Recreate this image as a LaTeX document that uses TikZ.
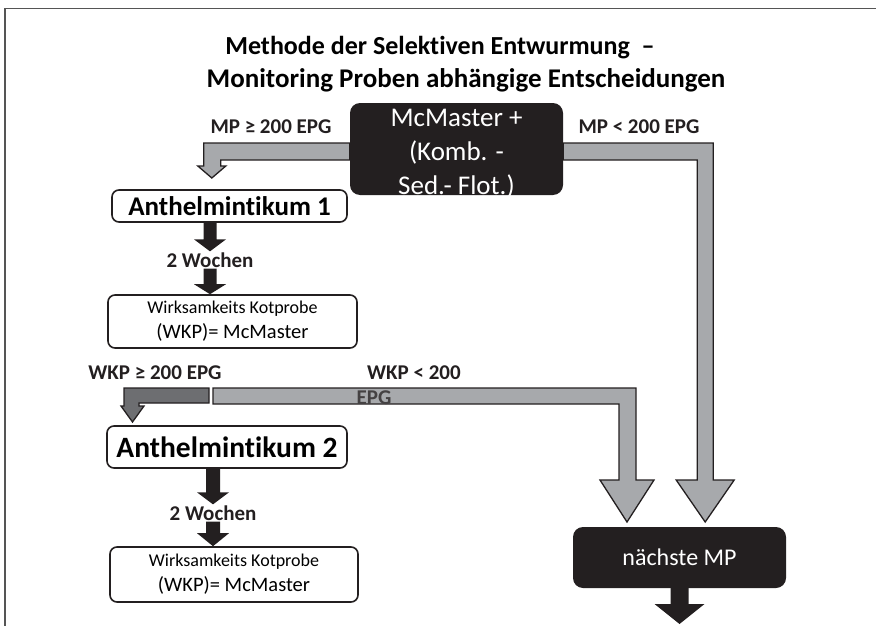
\documentclass[tikz,border=0pt]{standalone}
\usepackage{fontspec}
\setmainfont{Carlito}[Ligatures=NoCommon]
\usepackage{tikz}
\usetikzlibrary{calc}
\definecolor{boxblack}{HTML}{231F20}
\definecolor{lgray}{HTML}{A7A9AC}
\definecolor{dgray}{HTML}{6D6E71}
\definecolor{framegray}{HTML}{555555}
\tikzset{
  darkbox/.style={fill=boxblack, text=white, rounded corners=10pt, inner sep=0pt, align=center},
  whitebox/.style={draw=boxblack, line width=1.6pt, fill=white, rounded corners=7pt, inner sep=0pt, align=center},
  cond/.style={text=boxblack, font=\fontsize{21}{24}\selectfont\bfseries, inner sep=1pt},
  garrow/.style={draw=boxblack, line width=1.3pt, fill=lgray, line join=miter},
  darrow/.style={garrow, fill=dgray}
}
% black block arrow straight down: start, end, half shaft, half head, head length
\newcommand{\blkdown}[5]{%
  \fill[boxblack] let \p1=#1, \p2=#2 in
    (\x2-#3,\y1) -- (\x2+#3,\y1) -- (\x2+#3,\y2+#5) -- (\x2+#4,\y2+#5)
    -- (\x2,\y2) -- (\x2-#4,\y2+#5) -- (\x2-#3,\y2+#5) -- cycle;}

\begin{document}
\begin{tikzpicture}[x=1pt, y=-1pt]
  \useasboundingbox (0,0) rectangle (876,626);
  \draw[framegray, line width=1.5pt] (5,626) -- (5,8.5) -- (876,8.5);

  % title
  \node[font=\fontsize{26}{30}\selectfont\bfseries] (title1) at (440,48) {Methode der Selektiven Entwurmung \ –};
  \node[font=\fontsize{27}{30}\selectfont\bfseries] (title2) at (466,80) {Monitoring Proben abhängige Entscheidungen};

  % boxes
  \node[darkbox, minimum width=213pt, minimum height=92pt] (mcm) at (456.5,149) {};
  \node[text=white, align=center, inner sep=0pt, font=\fontsize{27}{34}\selectfont] (mcmtext) at ($(mcm.center)+(0,5)$)
    {McMaster +\\(Komb. -\\Sed.- Flot.)};
  \node[whitebox, minimum width=235pt, minimum height=32pt, font=\fontsize{27}{30}\selectfont\bfseries] (anth1) at (229.5,206) {Anthelmintikum 1};
  \node[cond] (woch1) at (210,260) {2 Wochen};
  \node[whitebox, minimum width=249pt, minimum height=53pt] (wkp1) at (232.5,321.5)
    {{\fontsize{18}{20}\selectfont Wirksamkeits Kotprobe}\\[6pt]{\fontsize{20.5}{22}\selectfont (WKP)= McMaster}};
  \node[whitebox, minimum width=240pt, minimum height=42pt, font=\fontsize{29.5}{32}\selectfont\bfseries] (anth2) at (227,447) {Anthelmintikum 2};
  \node[cond] (woch2) at (213,513) {2 Wochen};
  \node[whitebox, minimum width=248pt, minimum height=55pt] (wkp2) at (234,574.5)
    {{\fontsize{18}{20}\selectfont Wirksamkeits Kotprobe}\\[6pt]{\fontsize{20.5}{22}\selectfont (WKP)= McMaster}};
  \node[darkbox, minimum width=213pt, minimum height=61pt, font=\fontsize{24}{28}\selectfont] (next) at (679.5,557.5) {nächste MP};

  % conditions
  \node[cond] (mpge) at (271,127) {MP ≥ 200 EPG};
  \node[cond] (mplt) at (639,127) {MP < 200 EPG};
  \node[cond] (wkpge) at (155,373) {WKP ≥ 200 EPG};
  \node[cond] (wkplt) at (414,373) {WKP < 200};
  \coordinate (fork) at (211,396);
  \coordinate (out) at (679.5,624);

  % gray arrows
  \draw[garrow] ($(mcm.west)+(0,-6)$) -- ++(-146,0) -- ++(0,23) -- ++(-6,0) -- ++(14,12)
    -- ++(14,-12) -- ++(-5,0) -- ++(0,-6) -- ($(mcm.west)+(0,11)$) -- cycle;
  \draw[garrow] ($(mcm.east)+(0,-6)$) -- ++(150,0) -- ++(0,337) -- ++(21,0) -- ++(-29,42)
    -- ++(-29,-42) -- ++(21,0) -- ++(0,-320) -- ($(mcm.east)+(0,11)$) -- cycle;
  \draw[garrow] ($(fork)+(2,-8)$) -- ++(423,0) -- ++(0,92) -- ++(18,0) -- ++(-27,42)
    -- ++(-27,-42) -- ++(19,0) -- ++(0,-76) -- ($(fork)+(2,8)$) -- cycle;
  \draw[darrow] ($(fork)+(-2,-8)$) -- ++(-85,0) -- ++(0,18) -- ++(-3,0) -- ++(11.5,16)
    -- ++(11.5,-16) -- ++(-5,0) -- ++(0,-3) -- ($(fork)+(-2,7)$) -- cycle;
  \node[cond, text=boxblack!85] (epg) at (374,398) {EPG};

  % black arrows
  \blkdown{(anth1.south -| woch1.north)}{(woch1.north)}{6.5pt}{16pt}{12pt}
  \blkdown{(woch1.south)}{(wkp1.north -| woch1.south)}{6.5pt}{16pt}{10pt}
  \blkdown{(anth2.south -| woch2.north)}{(woch2.north)}{7pt}{16pt}{12pt}
  \blkdown{(woch2.south)}{(wkp2.north -| woch2.south)}{7pt}{16pt}{13pt}
  \blkdown{(next.south)}{(out)}{9pt}{25pt}{20pt}
\end{tikzpicture}
\end{document}
